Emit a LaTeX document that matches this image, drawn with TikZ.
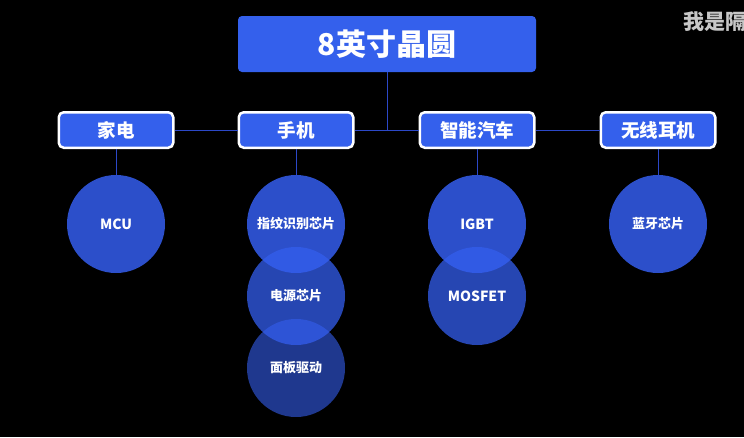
\documentclass[tikz,border=0pt]{standalone}
\usepackage{fontspec}
\setmainfont{Noto Sans CJK SC}
\usepackage{tikz}
\usetikzlibrary{positioning}
\definecolor{waferblue}{RGB}{52,96,236}
\definecolor{chipblue}{RGB}{52,94,238}
\definecolor{linkblue}{RGB}{44,72,200}
\newcommand\chipsize{98pt}
\newcommand\chipstep{72pt}
\tikzset{
    link/.style = {draw=linkblue, line width=1pt},
    title/.style={fill=waferblue, rounded corners=4pt, minimum width=298pt, minimum height=56pt, text=white, font=\bfseries\fontsize{30}{30}\selectfont},
    market/.style={draw=white, line width=2.5pt, fill=waferblue, rounded corners=5pt, minimum width=114.5pt, minimum height=35.5pt, text=white, font=\bfseries\fontsize{18.5}{18.5}\selectfont},
    chip/.style={circle, fill=chipblue, fill opacity=.85, text opacity=1, minimum size=\chipsize, inner sep=0pt, text=white, font=\bfseries\fontsize{13}{13}\selectfont, node distance=\chipstep, on grid},
    lowchip/.style={chip, fill opacity=.75},
    lastchip/.style={chip, fill opacity=.6},
    watermark/.style={anchor=west, inner sep=0pt, text=black!22, font=\bfseries\fontsize{21}{21}\selectfont},
}
\begin{document}
\begin{tikzpicture}[x=1pt,y=-1pt]
    \fill[black] (0,0) rectangle (744,437);
    \useasboundingbox (0,0) rectangle (744,437);
    \node(wafer)[title] at (387,44) {8英寸晶圆};
    \node(home)[market] at (116,130) {家电};
    \node(phone)[market] at (296,130) {手机};
    \node(car)[market] at (477,130) {智能汽车};
    \node(ear)[market] at (658,130) {无线耳机};
    % chips under each market
    \node(mcu)[chip, below=94pt of home] {\fontsize{14}{14}\selectfont MCU};
    \node(finger)[chip, below=94pt of phone] {指纹识别芯片};
    \node(power)[lowchip, below=of finger] {电源芯片};
    \node(panel)[lastchip, below=of power] {面板驱动};
    \node(igbt)[chip, below=94pt of car] {\fontsize{14}{14}\selectfont IGBT};
    \node(mosfet)[lowchip, below=of igbt] {\fontsize{14}{14}\selectfont MOSFET};
    \node(bt)[chip, below=94pt of ear] {蓝牙芯片};
    % links
    \draw[link] (wafer.south) -- (wafer.south |- phone.center);
    \draw[link] (home.east) -- (phone.west);
    \draw[link] (phone.east) -- (car.west);
    \draw[link] (car.east) -- (ear.west);
    \draw[link] (home.south) -- (mcu.north);
    \draw[link] (phone.south) -- (finger.north);
    \draw[link] (car.south) -- (igbt.north);
    \draw[link] (ear.south) -- (bt.north);
    \node(mark)[watermark] at (683,22) {我是隔};
\end{tikzpicture}
\end{document}
